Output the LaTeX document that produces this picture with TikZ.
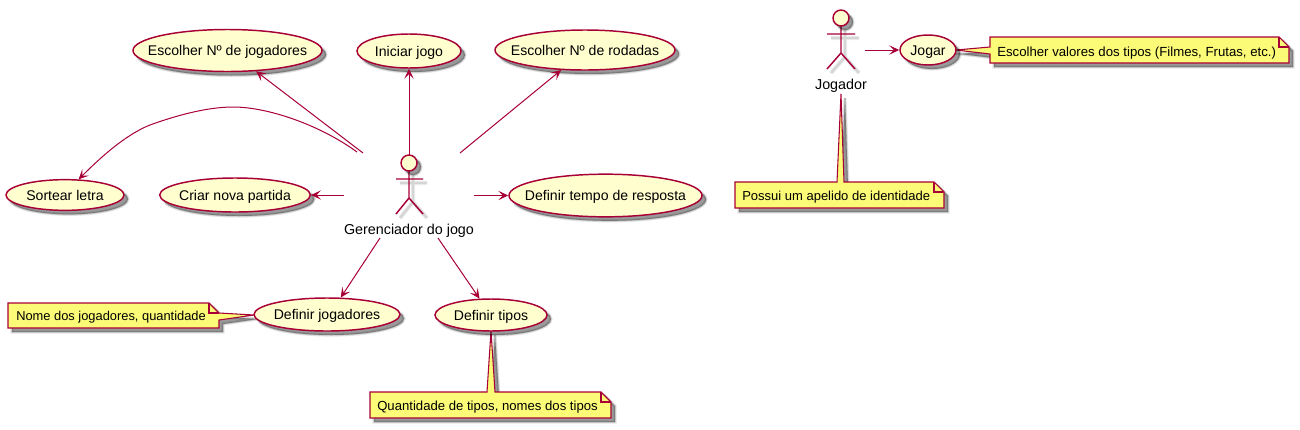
\documentclass[tikz,border=0pt]{standalone}
\usepackage{fontspec}
\setmainfont{Liberation Sans}
\usetikzlibrary{arrows.meta,shapes.geometric,shadows,calc}
\definecolor{umlline}{HTML}{A80036}
\definecolor{umlfill}{HTML}{FEFECE}
\definecolor{umlnote}{HTML}{FBFB77}
\newcommand\uclabel[1]{\makebox[0pt][c]{\raisebox{-4.1pt}[0pt][0pt]{#1}}}
\tikzset{
  softsh/.style={
    general shadow={shadow xshift=3pt,shadow yshift=-3pt,draw=black,fill=black,line width=2.4pt,opacity=.10},
    general shadow={shadow xshift=3pt,shadow yshift=-3pt,draw=black,fill=black,line width=1.1pt,opacity=.14},
    general shadow={shadow xshift=3pt,shadow yshift=-3pt,draw=none,fill=black,opacity=.22}},
  linesh/.style={
    general shadow={shadow xshift=3pt,shadow yshift=-3pt,draw=black,line width=3.2pt,opacity=.07},
    general shadow={shadow xshift=3pt,shadow yshift=-3pt,draw=black,line width=1.8pt,opacity=.10}},
  usecase/.style={ellipse,draw=umlline,fill=umlfill,line width=1.1pt,inner sep=0pt,softsh,font=\fontsize{10.55pt}{12pt}\selectfont},
  notebody/.style={draw=umlline,fill=umlnote,line width=.8pt,softsh,line join=miter},
  notefold/.style={draw=umlline,line width=.8pt},
  notetext/.style={anchor=base west,inner sep=0pt,font=\fontsize{#1pt}{12pt}\selectfont},
  notetext/.default=9.75,
  actorbody/.style={draw=umlline,line width=1.1pt,linesh},
  actorhead/.style={circle,draw=umlline,fill=umlfill,line width=1.1pt,minimum size=12pt,inner sep=0pt,softsh},
  actorlabel/.style={inner sep=0pt,font=\fontsize{10.75pt}{12pt}\selectfont},
  link/.style={draw=umlline,line width=.75pt,-{Stealth[length=7.5pt,width=7pt,inset=3.4pt]}},
}
\begin{document}
\begin{tikzpicture}[x=0.75pt,y=-0.75pt]
\useasboundingbox (0,0) rectangle (1300,429);
% notes
\path[notebody] (8,303) -- (209,303) -- (219,313) -- (254,315) -- (219,320) -- (219,328) -- (8,328) -- cycle;
\draw[notefold] (209,303) -- (209,313) -- (219,313);
\node[notetext=9.65] (nNome) at (16,320) {Nome dos jogadores, quantidade};
\path[notebody] (370,392) -- (487,392) -- (491,331) -- (495,392) -- (601,392) -- (611,402) -- (611,418) -- (370,418) -- cycle;
\draw[notefold] (601,392) -- (601,402) -- (611,402);
\node[notetext=9.85] (nTipos) at (377,410) {Quantidade de tipos, nomes dos tipos};
\path[notebody] (735,182) -- (837,182) -- (841,94) -- (844,182) -- (934,182) -- (944,192) -- (944,208) -- (735,208) -- cycle;
\draw[notefold] (934,182) -- (934,192) -- (944,192);
\node[notetext=9.75] (nApelido) at (742,200) {Possui um apelido de identidade};
\path[notebody] (990,37) -- (1279,37) -- (1289,47) -- (1289,63) -- (990,63) -- (990,54) -- (956,50) -- (990,47) -- cycle;
\draw[notefold] (1279,37) -- (1279,47) -- (1289,47);
\node[notetext=9.9] (nValores) at (997,56) {Escolher valores dos tipos (Filmes, Frutas, etc.)};
% use cases
\node[usecase,minimum width=141.75pt,minimum height=31.5pt] (escJog) at (227.5,50.5) {\uclabel{Escolher Nº de jogadores}};
\node[usecase,minimum width=78pt,minimum height=25.5pt] (iniciar) at (409,51) {\uclabel{Iniciar jogo}};
\node[usecase,minimum width=135pt,minimum height=30pt] (escRod) at (585,50) {\uclabel{Escolher Nº de rodadas}};
\node[usecase,minimum width=88.5pt,minimum height=23pt] (sortear) at (65,195) {\uclabel{Sortear letra}};
\node[usecase,minimum width=113pt,minimum height=25.5pt] (criar) at (235,195) {\uclabel{Criar nova partida}};
\node[usecase,minimum width=144.75pt,minimum height=32pt] (tempo) at (605.5,195.5) {\uclabel{Definir tempo de resposta}};
\node[usecase,minimum width=109.5pt,minimum height=24.75pt] (defJog) at (327,314.5) {\uclabel{Definir jogadores}};
\node[usecase,minimum width=84pt,minimum height=24pt] (defTip) at (491,315) {\uclabel{Definir tipos}};
\node[usecase,minimum width=42pt,minimum height=22.5pt] (jogar) at (928,50) {\uclabel{Jogar}};
% actor: Gerenciador do jogo
\draw[actorbody] (409,171) -- (409,198) (396,179) -- (423,179) (396,214) -- (409,198) -- (423,214);
\node[actorhead] (gerHead) at (409,163) {};
\node[actorlabel] (gerLabel) at (409,231) {Gerenciador do jogo};
% actor: Jogador
\draw[actorbody] (841,26) -- (841,53) (827,34) -- (855,34) (827,69) -- (841,53) -- (855,69);
\node[actorhead] (jogHead) at (841,18) {};
\node[actorlabel] (jogLabel) at (841,86) {Jogador};
% connector ends
\coordinate (g1) at (409,155);
\coordinate (g2) at (363,153);
\coordinate (g3) at (460,153);
\coordinate (g4) at (357,152);
\coordinate (g5) at (344,195);
\coordinate (g6) at (474,195.5);
\coordinate (g7) at (380,238);
\coordinate (g8) at (438,238);
\coordinate (j1) at (865,50);
\path[link] (g1) -- (iniciar);
\path[link] (g2) -- (escJog.-36);
\path[link] (g3) -- (escRod.-140);
\path[link] (g4) .. controls (320,125) and (268,107) .. (233,107) .. controls (205,107) and (172,117) .. (150,125) .. controls (125,135) and (100,158) .. (sortear.49);
\path[link] (g5) -- (criar);
\path[link] (g6) -- (tempo);
\path[link] (g7) -- (defJog.51);
\path[link] (g8) -- (defTip.125);
\path[link] (j1) -- (jogar);
\end{tikzpicture}
\end{document}
